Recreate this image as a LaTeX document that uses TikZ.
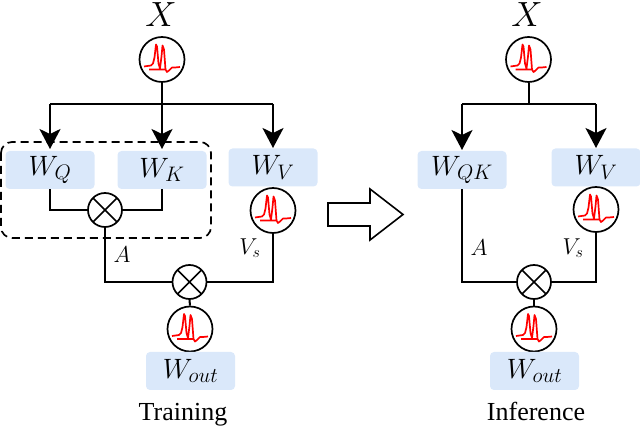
\RequirePackage{fix-cm}
\documentclass[tikz,border=0pt]{standalone}
\usepackage{fontspec}
\setmainfont{Liberation Serif}
\DeclareMathSizes{28}{28}{21}{15}
\DeclareMathSizes{35}{35}{25}{18}
\DeclareMathSizes{23}{23}{16}{12}
\usetikzlibrary{arrows.meta,calc}
\definecolor{boxblue}{RGB}{218,232,250}
\tikzset{
  x=1pt,y=-1pt,
  wbox/.style={fill=boxblue,rounded corners=4pt,minimum width=89pt,minimum height=38pt,inner sep=0pt},
  wlabel/.style={font=\fontsize{28}{30}\selectfont},
  sig/.style={circle,draw=black,line width=1.7pt,fill=white,minimum size=45pt,inner sep=0pt,
    path picture={\draw[red,line width=1.7pt,line join=round,shift={(path picture bounding box.center)}]
      (-18,7)--(-11,6)--(-9,4)--(-7.5,-2)--(-6,-15)--(-5,-13)--(-3.5,4)--(-2,9)--(-0.5,-3)--(0.5,-14)--(2,-10)--(3.5,10)--(5,12.5)--(7,11)--(10,8)--(13,8)--(18,7.5)
      (-13,10)--(-3,10)--(4,10);}},
  otimesnode/.style={circle,draw=black,line width=1.7pt,fill=white,minimum size=34pt,inner sep=0pt,
    path picture={\draw[black,line width=1.7pt]
      (path picture bounding box.south west)--(path picture bounding box.north east)
      (path picture bounding box.north west)--(path picture bounding box.south east);}},
  thin line/.style={draw=black,line width=2pt},
  arrowline/.style={draw=black,line width=2.2pt,-{Stealth[length=20pt,width=21pt,inset=5pt]}},
  title/.style={font=\fontsize{26}{30}\selectfont,anchor=base},
  xlabel/.style={font=\fontsize{35}{40}\selectfont},
  smalllabel/.style={font=\fontsize{23}{26}\selectfont},
}
\begin{document}
\begin{tikzpicture}
\useasboundingbox (0,0) rectangle (640,427);
% Training
\node[xlabel] (x1) at (161,15) {$X$};
\node[sig] (s1) at (162,59.5) {};
\coordinate (b1) at (162,104);
\coordinate (bq) at (50,104);
\coordinate (bv) at (273,104);
\node[wbox,wlabel] (wq) at (50,170) {$W_Q$};
\node[wbox,wlabel] (wk) at (162,170) {$W_K$};
\node[wbox,wlabel] (wv) at (273,167.5) {$W_V$};
\node[otimesnode] (o1) at (105,210) {};
\node[sig] (s2) at (273,210.5) {};
\node[otimesnode] (o2) at (189.5,282) {};
\node[sig] (s3) at (190,329) {};
\node[wbox,wlabel] (wo) at (190.5,371) {$W_{out}$};
\node[title] (t1) at (183,420.5) {Training};
\node[smalllabel] (a1) at (122,255) {$A$};
\node[smalllabel] (v1) at (250,248) {$V_s$};
\draw[dashed,line width=1.7pt,dash pattern=on 8pt off 5pt,rounded corners=11pt] (1,142) rectangle (211,238);
\draw[thin line] (s1.south) -- (b1);
\draw[thin line] (bq) -- (bv);
\draw[arrowline] (bq) -- (50,149);
\draw[arrowline] (b1) -- (162,149);
\draw[arrowline] (bv) -- (273,148);
\draw[thin line] (wq.south) |- (o1.west);
\draw[thin line] (wk.south) |- (o1.east);
\draw[thin line] (wv.south) -- (s2.north);
\draw[thin line] (o1.south) |- (o2.west);
\draw[thin line] (s2.south) |- (o2.east);
\draw[thin line] (o2.south) -- (s3.north);
% Arrow between
\draw[black,line width=1.6pt,line join=miter,fill=white] (328,203)--(370,203)--(370,189)--(403,214.5)--(370,240)--(370,226)--(328,226)--cycle;
% Inference
\node[xlabel] (x2) at (527,15) {$X$};
\node[sig] (r1) at (528.5,59.5) {};
\coordinate (c1) at (528.5,104);
\coordinate (cq) at (462,104);
\coordinate (cv) at (596,104);
\node[wbox,wlabel] (rq) at (462,170) {$W_{QK}$};
\node[wbox,wlabel] (rv) at (596,167.5) {$W_V$};
\node[sig] (r2) at (596,209.5) {};
\node[otimesnode] (o3) at (534,282) {};
\node[sig] (r3) at (534,329) {};
\node[wbox,wlabel] (ro) at (534.5,371) {$W_{out}$};
\node[title] (t2) at (536,420.5) {Inference};
\node[smalllabel] (a2) at (479,248) {$A$};
\node[smalllabel] (v2) at (573,248) {$V_s$};
\draw[thin line] (r1.south) -- (c1);
\draw[thin line] (cq) -- (cv);
\draw[arrowline,line width=2pt] (cq) -- (462,150);
\draw[arrowline,line width=2pt] (cv) -- (596,148);
\draw[thin line] (rq.south) |- (o3.west);
\draw[thin line] (r2.south) |- (o3.east);
\draw[thin line] (rv.south) -- (r2.north);
\draw[thin line] (o3.south) -- (r3.north);
\end{tikzpicture}
\end{document}
